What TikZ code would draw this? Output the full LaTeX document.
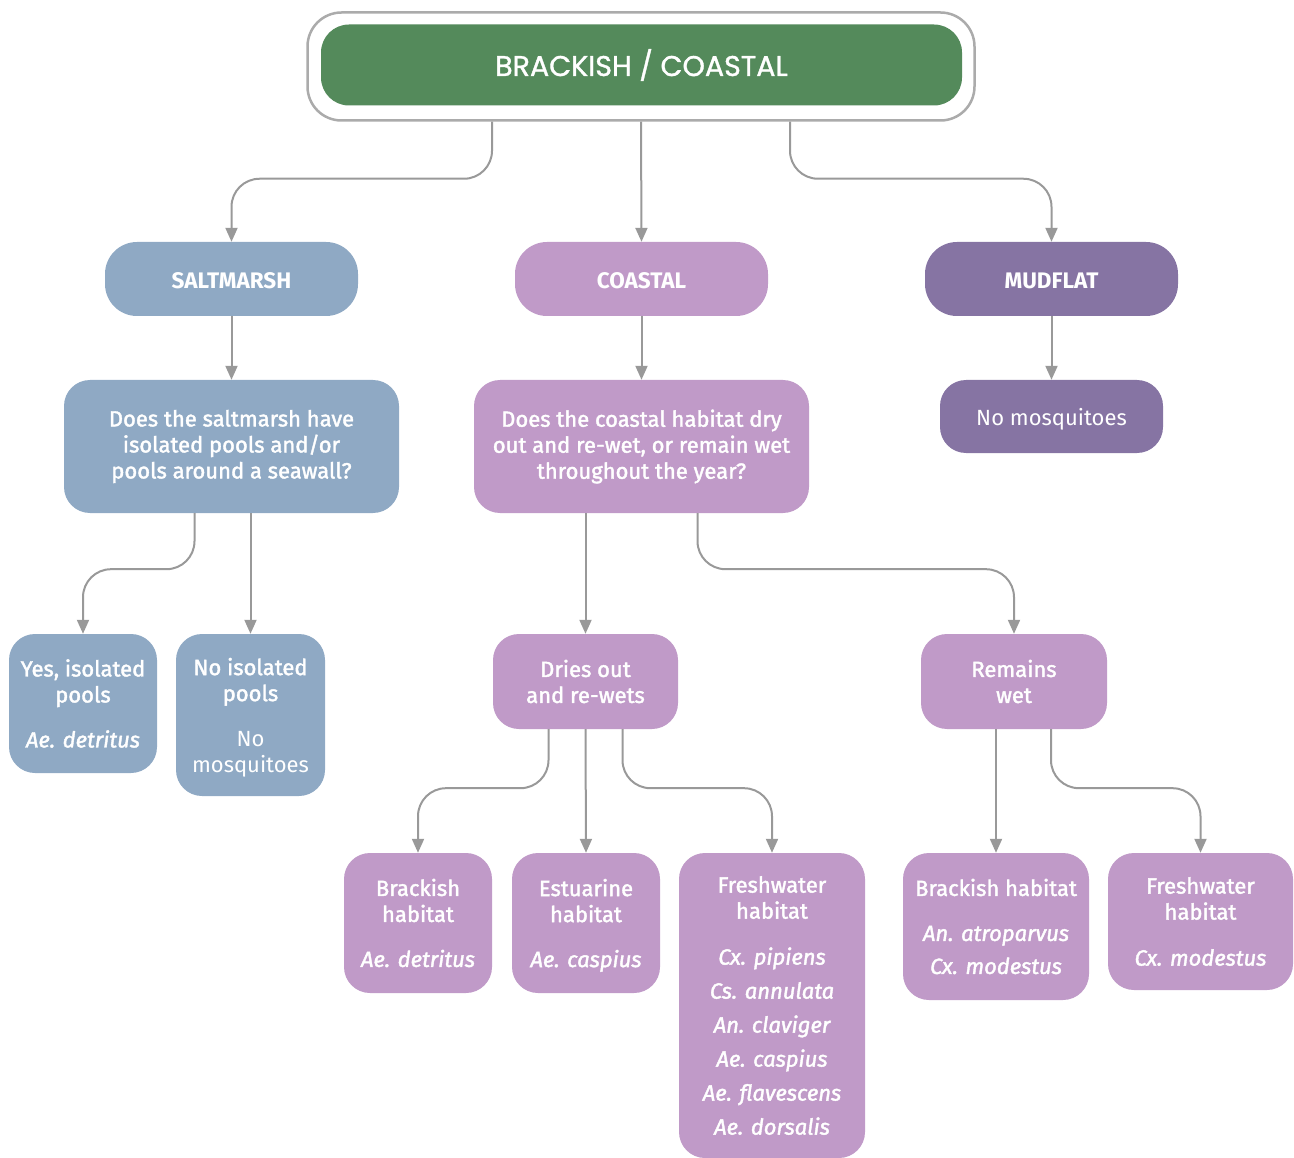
\documentclass[tikz,border=0pt]{standalone}
\usepackage{fontspec}
\setmainfont{Fira Sans}
\newfontfamily\fmed[FakeBold=1.8]{Fira Sans}
\newfontfamily\ftitle[FakeBold=1.2]{Poppins}
\usetikzlibrary{arrows.meta}
\definecolor{cgreen}{HTML}{548A5B}
\definecolor{cblue}{HTML}{8FA9C4}
\definecolor{cpink}{HTML}{C09AC8}
\definecolor{cpurple}{HTML}{8674A3}
\definecolor{cgray}{HTML}{999999}
\definecolor{cborder}{HTML}{ABABAB}
\newcommand{\regtext}{\normalfont\fontsize{22}{26}\selectfont}
\begin{document}
\begin{tikzpicture}[x=1pt,y=-1pt,
  box/.style={rounded corners=26pt, text=white, inner sep=0pt, align=center,
    font=\fmed\fontsize{22}{26}\selectfont},
  catbox/.style={box, rounded corners=32pt, minimum width=253pt, minimum height=74pt,
    text height=20pt, text depth=0pt,
    font=\bfseries\fontsize{22.5}{26}\selectfont},
  conn/.style={draw=cgray, line width=2pt, -{Triangle[width=12pt,length=14pt]}, rounded corners=28pt}]
\useasboundingbox (0,0) rectangle (1294,1158);

% top
\node[draw=cborder, line width=2.5pt, fill=white, rounded corners=34pt,
  minimum width=667pt, minimum height=108pt, inner sep=0pt] (outer) at (641,66.5) {};
\node[fill=cgreen, rounded corners=28pt, minimum width=641pt, minimum height=81pt, inner sep=0pt,
  font=\ftitle\fontsize{28.5}{32}\selectfont, text=white] (top) at (641.5,65) {BRACKISH / COASTAL};

% categories
\node[catbox, fill=cblue] (salt) at (231.5,279) {SALTMARSH};
\node[catbox, fill=cpink] (coast) at (641.5,279) {COASTAL};
\node[catbox, fill=cpurple] (mud) at (1051.5,279) {MUDFLAT};

% questions
\node[box, fill=cblue, minimum width=335pt, minimum height=133pt] (sq) at (231.5,446.5)
  {Does the saltmarsh have\\isolated pools and/or\\pools around a seawall?};
\node[box, fill=cpink, minimum width=335pt, minimum height=133pt] (cq) at (641.5,446.5)
  {Does the coastal habitat dry\\out and re-wet, or remain wet\\throughout the year?};
\node[box, fill=cpurple, minimum width=223pt, minimum height=73pt, text depth=0pt,
  font=\regtext] (nomos) at (1051.5,416.5) {No mosquitoes};

% saltmarsh answers
\node[box, fill=cblue, minimum width=148pt, minimum height=139pt] (yes) at (83,703.5)
  {Yes, isolated\\pools\\[19pt]\itshape Ae. detritus};
\node[box, fill=cblue, minimum width=149pt, minimum height=162pt, text depth=0pt] (noiso) at (250.5,715)
  {No isolated\\pools\\[19pt]{\regtext No}\\{\regtext mosquitoes}};

% coastal answers
\node[box, fill=cpink, minimum width=185pt, minimum height=95pt] (dries) at (585.5,681.5)
  {Dries out\\and re-wets};
\node[box, fill=cpink, minimum width=186pt, minimum height=95pt] (wet) at (1014,681.5)
  {Remains\\wet};

% habitats
\node[box, fill=cpink, minimum width=148pt, minimum height=140pt] (brackL) at (418,923)
  {Brackish\\habitat\\[19pt]\itshape Ae. detritus};
\node[box, fill=cpink, minimum width=148pt, minimum height=140pt, text depth=0pt] (estu) at (586,923)
  {Estuarine\\habitat\\[19pt]\itshape Ae. caspius};
\node[box, fill=cpink, minimum width=186pt, minimum height=305pt] (freshL) at (772,1005.5)
  {Freshwater\\habitat\\[20pt]\itshape Cx. pipiens\\[8pt]\itshape Cs. annulata\\[8pt]\itshape An. claviger\\[8pt]\itshape Ae. caspius\\[8pt]\itshape Ae. flavescens\\[8pt]\itshape Ae. dorsalis};
\node[box, fill=cpink, minimum width=186pt, minimum height=147pt] (brackR) at (996,926.5)
  {Brackish habitat\\[19pt]\itshape An. atroparvus\\[7pt]\itshape Cx. modestus};
\node[box, fill=cpink, minimum width=185pt, minimum height=137pt] (freshR) at (1200.5,921.5)
  {Freshwater\\habitat\\[20pt]\itshape Cx. modestus};

% connectors
\draw[conn] ([xshift=-149pt]outer.south) -- ++(0,57) -| (salt.north);
\draw[conn] (outer.south) -- (coast.north);
\draw[conn] ([xshift=149pt]outer.south) -- ++(0,57) -| (mud.north);
\draw[conn] (salt.south) -- (sq.north);
\draw[conn] (coast.south) -- (cq.north);
\draw[conn] (mud.south) -- (nomos.north);
\draw[conn] ([xshift=-37pt]sq.south) -- ++(0,56) -| (yes.north);
\draw[conn] ([xshift=19pt]sq.south) -- (noiso.north);
\draw[conn] ([xshift=-56pt]cq.south) -- (dries.north);
\draw[conn] ([xshift=56pt]cq.south) -- ++(0,56) -| (wet.north);
\draw[conn] ([xshift=-37pt]dries.south) -- ++(0,59) -| (brackL.north);
\draw[conn] (dries.south) -- (estu.north);
\draw[conn] ([xshift=37pt]dries.south) -- ++(0,59) -| (freshL.north);
\draw[conn] ([xshift=-18pt]wet.south) -- (brackR.north);
\draw[conn] ([xshift=37pt]wet.south) -- ++(0,59) -| (freshR.north);
\end{tikzpicture}
\end{document}
